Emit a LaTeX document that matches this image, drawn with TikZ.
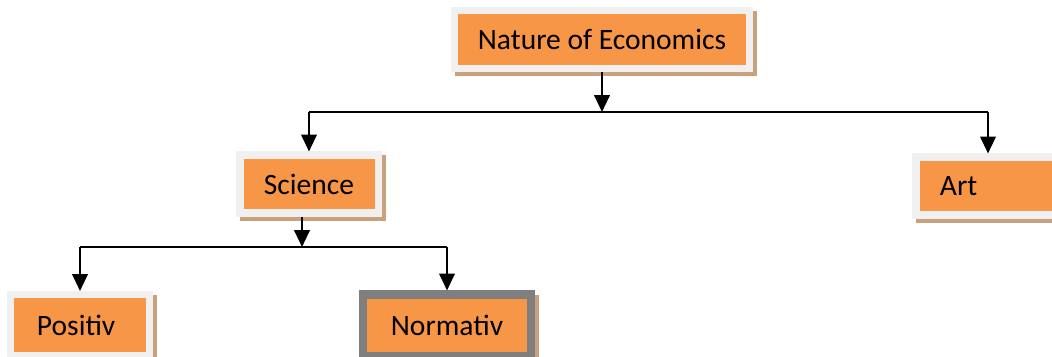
\documentclass[tikz,border=0pt]{standalone}
\usepackage{fontspec}
\setmainfont{Carlito}
\usepackage{tikz}
\usetikzlibrary{arrows.meta,positioning,shadows,calc}
\definecolor{boxorange}{HTML}{F79646}
\definecolor{framegray}{HTML}{F0F0F0}
\definecolor{shadowtan}{RGB}{203,160,125}
\definecolor{darkframe}{HTML}{7F7F7F}
\tikzset{
  topic/.style={draw=framegray, line width=5pt, fill=boxorange, inner sep=0pt,
    minimum height=1.45cm, font=\fontsize{21}{25}\selectfont,
    drop shadow={shadow xshift=0.1cm, shadow yshift=-0.1cm, fill=shadowtan,
      draw=shadowtan, line width=5pt, opacity=1}},
  link/.style={line width=1.6pt, -{Triangle[width=11pt,length=12pt]}},
  branch/.style={line width=1.6pt}
}
\begin{document}
\begin{tikzpicture}[x=0.025cm, y=-0.025cm]
\useasboundingbox[fill=white] (0,0) rectangle (1052,356);
\node[topic, minimum width=7.375cm] (nat) at (602,39.5) {Nature of Economics};
\node[topic, minimum width=3.45cm] (sci) at (309,184) {Science};
\node[topic, minimum width=3.6cm, text width=2.4cm, align=left] (art) at (988,186) {Art};
\node[topic, minimum width=3.45cm, minimum height=1.525cm, text width=2.15cm, align=left] (pos) at (80,325) {Positiv};
\node[topic, draw=darkframe, line width=5.7pt, minimum width=4.2cm, minimum height=1.525cm] (nor) at (447,325) {Normativ};
% forks
\coordinate (fork1) at (602,112);
\coordinate (fork2) at (302,247);
\draw[link] (nat) -- (fork1);
\draw[branch] (sci.north |- fork1) -- (art.north |- fork1);
\foreach \n in {sci,art} \draw[link] (\n.north |- fork1) -- (\n.north);
\draw[link] (sci.south -| fork2) -- (fork2);
\draw[branch] (pos.north |- fork2) -- (nor.north |- fork2);
\foreach \n in {pos,nor} \draw[link] (\n.north |- fork2) -- (\n.north);
\end{tikzpicture}
\end{document}
